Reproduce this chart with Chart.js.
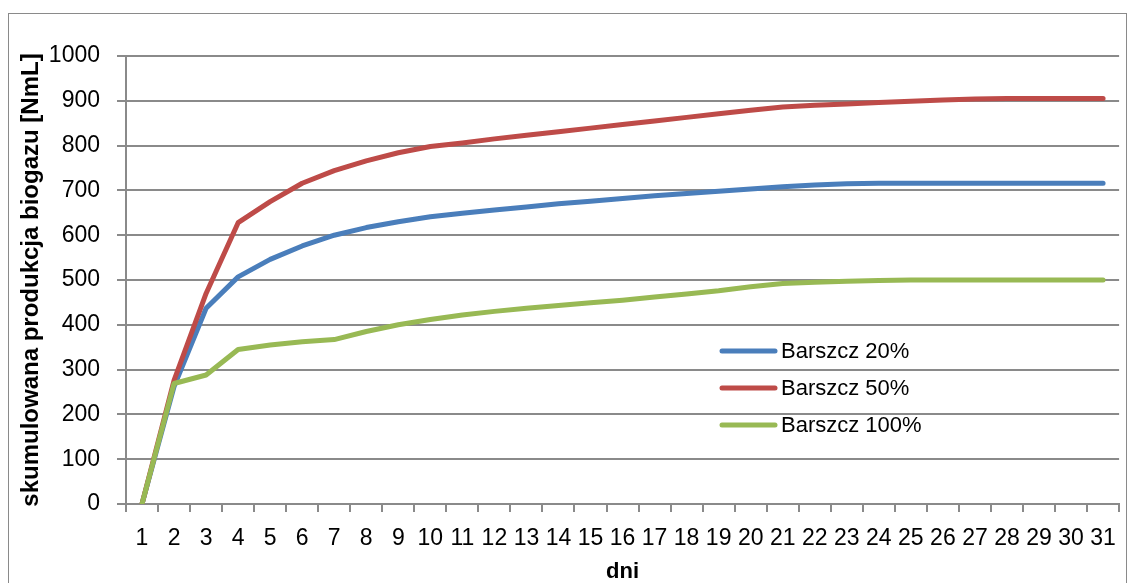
<!DOCTYPE html>
<html>
<head>
<meta charset="utf-8">
<script src="https://cdn.jsdelivr.net/npm/chart.js@4/dist/chart.umd.min.js"></script>
<style>
  html, body { margin: 0; padding: 0; background: #fff; }
  #wrap { width: 1129px; height: 583px; }
</style>
</head>
<body>
<div id="wrap"><canvas id="biogasChart" width="1129" height="583"></canvas></div>
<script>
// dane z wykresu
const dni = ['1', '2', '3', '4', '5', '6', '7', '8', '9', '10', '11', '12', '13', '14', '15', '16',
    '17', '18', '19', '20', '21', '22', '23', '24', '25', '26', '27', '28', '29', '30', '31'];
const barszcz20 = [0, 262, 437, 507, 546, 576, 600, 617, 630, 641, 649, 656, 663, 670, 676, 682,
    688, 693, 698, 703, 708, 712, 715, 716, 716, 716, 716, 716, 716, 716, 716];
const barszcz50 = [0, 276, 470, 628, 675, 716, 744, 766, 784, 798, 806, 815, 823, 831, 839, 847,
    855, 863, 871, 879, 886, 890, 893, 896, 899, 902, 904, 905, 905, 905, 905];
const barszcz100 = [0, 269, 288, 345, 355, 362, 367, 385, 400, 412, 422, 430, 437, 443, 449, 455,
    462, 469, 476, 485, 492, 495, 497, 499, 500, 500, 500, 500, 500, 500, 500];
const yTicks = [0, 100, 200, 300, 400, 500, 600, 700, 800, 900, 1000];

const gridColor = '#8a8a8a';
const fontName = "'Liberation Sans', Arial, sans-serif";

// ramka wokół całego wykresu
const ramka = {
    id: 'ramka',
    beforeDraw(chart) {
        const c = chart.ctx;
        c.save();
        c.strokeStyle = '#8a8a8a';
        c.lineWidth = 1;
        c.strokeRect(8.5, 13.5, 1118, 600);
        c.restore();
    }
};

// legenda wewnątrz obszaru wykresu
const legendaWewnatrz = {
    id: 'legendaWewnatrz',
    afterDatasetsDraw(chart) {
        const c = chart.ctx;
        c.save();
        c.font = '22px ' + fontName;
        c.textBaseline = 'middle';
        c.lineCap = 'round';
        chart.data.datasets.forEach(function(ds, i) {
            const y = 351 + i * 37;
            c.strokeStyle = ds.borderColor;
            c.lineWidth = 5;
            c.beginPath();
            c.moveTo(722, y);
            c.lineTo(775, y);
            c.stroke();
            c.fillStyle = '#000';
            c.fillText(ds.label, 781, y + 1);
        });
        c.restore();
    }
};

new Chart(document.getElementById('biogasChart'), {
    type: 'line',
    data: {
        labels: dni,
        datasets: [{
            label: 'Barszcz 20%',
            data: barszcz20,
            borderColor: '#4a7ebb',
            order: 3
        }, {
            label: 'Barszcz 50%',
            data: barszcz50,
            borderColor: '#be4b48',
            order: 2
        }, {
            label: 'Barszcz 100%',
            data: barszcz100,
            borderColor: '#98b954',
            order: 1
        }]
    },
    options: {
        responsive: false,
        animation: false,
        devicePixelRatio: 1,
        layout: {
            padding: { left: 10, top: 56, right: 8, bottom: 0 }
        },
        elements: {
            point: { radius: 0, hoverRadius: 0 },
            line: {
                borderWidth: 5,
                tension: 0,
                borderCapStyle: 'round',
                borderJoinStyle: 'round',
                fill: false
            }
        },
        plugins: {
            legend: { display: false },
            tooltip: { enabled: false }
        },
        scales: {
            x: {
                offset: true,
                grid: {
                    offset: true,
                    drawOnChartArea: false,
                    drawTicks: true,
                    tickLength: 8,
                    color: gridColor,
                    lineWidth: 2
                },
                border: { color: gridColor, width: 2 },
                ticks: {
                    autoSkip: false,
                    maxRotation: 0,
                    padding: 13,
                    color: '#000',
                    font: { family: fontName, size: 23 }
                },
                title: {
                    display: true,
                    text: 'dni',
                    color: '#000',
                    padding: 0,
                    font: { family: fontName, size: 22, weight: 'bold', lineHeight: 1 }
                },
                afterFit(scale) { scale.height = 79; }
            },
            y: {
                min: 0,
                max: 1000,
                afterBuildTicks(scale) {
                    scale.ticks = yTicks.map(v => ({ value: v }));
                },
                grid: {
                    color: gridColor,
                    lineWidth: 2,
                    tickLength: 9
                },
                border: { color: gridColor, width: 2 },
                ticks: {
                    padding: 17,
                    color: '#000',
                    font: { family: fontName, size: 23 },
                    callback: v => String(v)
                },
                title: {
                    display: true,
                    text: 'skumulowana produkcja biogazu [NmL]',
                    color: '#000',
                    padding: { top: 9, bottom: 0 },
                    font: { family: fontName, size: 24, weight: 'bold', lineHeight: 1 }
                },
                afterFit(scale) { scale.width = 116; }
            }
        }
    },
    plugins: [ramka, legendaWewnatrz]
});
</script>
</body>
</html>
